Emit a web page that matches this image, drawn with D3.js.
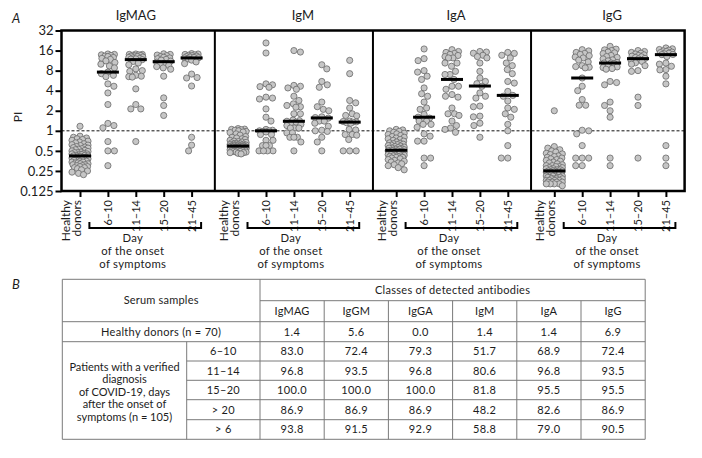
<!DOCTYPE html>
<html><head><meta charset="utf-8">
<script src="https://cdn.jsdelivr.net/npm/d3@7"></script>
<style>
body{margin:0;background:#fff}
svg{display:block}
text{font-family:Lato, "Noto Sans", sans-serif; fill:#1c1c1c}
</style>
</head><body>
<svg id="c" width="702" height="458"></svg>
<script>
// ---------------- data ----------------
const panels = ["IgMAG", "IgM", "IgA", "IgG"];
const categories = ["Healthy donors", "6–10", "11–14", "15–20", "21–45"];
const yTicks = [0.125, 0.25, 0.5, 1, 2, 4, 8, 16, 32];
const yTickLabels = ["0.125", "0.25", "0.5", "1", "2", "4", "8", "16", "32"];

// IgMAG
const igmagHealthy = [1.17,0.83,0.80,0.78,0.76,0.74,0.72,0.70,0.68,0.66,0.64,0.62,0.61,0.60,0.58,0.57,0.56,0.55,0.54,0.53,0.52,0.51,0.50,0.49,0.48,0.47,0.47,0.46,0.45,0.45,0.44,0.44,0.43,0.43,0.42,
  0.42,0.41,0.41,0.40,0.40,0.39,0.39,0.38,0.38,0.37,0.37,0.36,0.36,0.35,0.35,0.34,0.34,0.33,0.33,0.32,0.32,0.31,0.31,0.30,0.30,0.29,0.29,0.28,0.28,0.27,0.26,0.25,0.24,0.23,0.22];
const igmagD6 = [14.2,14.0,13.8,13.5,13.2,13.0,12.6,12.2,11.8,11.2,10.6,10.0,9.4,8.8,7.6,7.2,6.8,6.5,5.06,4.66,3.7,2.48,1.29,1.2,1.11,0.69,0.5,0.5,0.3];
const igmagD11 = [14.2,14.0,14.0,13.8,13.6,13.5,13.3,13.2,13.0,12.8,12.6,12.4,12.2,12.0,11.9,11.7,11.0,10.4,9.8,8.5,8.0,7.8,6.8,6.6,6.5,6.4,4.26,2.48,2.13,2.13,0.69];
const igmagD15 = [14.3,14.0,13.7,13.4,13.0,12.7,12.4,12.1,11.8,11.5,11.1,10.7,10.3,10.0,9.6,9.2,8.8,8.4,6.6,3.12,2.4,1.7];
const igmagD21 = [14.4,14.2,14.0,13.8,13.6,13.4,13.2,13.0,12.8,12.6,12.5,12.4,12.0,11.5,10.8,10.2,7.1,6.3,6.2,4.7,0.8,0.61,0.5];
const igmagMedians = [0.42, 7.6, 11.7, 10.9, 12.4];

// IgM
const igmHealthy = [1.08,1.06,1.05,1.04,1.02,1.0,0.98,0.96,0.94,0.9,0.86,0.82,0.8,0.78,0.76,0.74,0.72,0.7,0.69,0.68,0.67,0.66,0.65,0.64,0.63,0.63,0.62,0.62,0.61,0.61,0.6,0.6,0.6,0.59,0.59,
  0.59,0.58,0.58,0.58,0.57,0.57,0.57,0.56,0.56,0.56,0.55,0.55,0.55,0.54,0.54,0.54,0.53,0.53,0.53,0.52,0.52,0.52,0.51,0.51,0.5,0.5,0.5,0.49,0.49,0.48,0.48,0.47,0.47,0.46,0.45];
const igmD6 = [20.8,14.7,5.06,4.9,4.6,4.5,3.2,3.1,3.0,2.13,1.6,1.4,1.05,1.02,1.0,1.0,0.98,0.96,0.88,0.88,0.72,0.72,0.6,0.6,0.6,0.5,0.5,0.5,0.5];
const igmD11 = [16,15.2,4.8,4.66,4.4,4.2,3.3,2.85,2.54,2.4,2.3,2.26,1.8,1.8,1.45,1.42,1.39,1.35,1.3,1.25,1.2,1.1,1.1,1.1,0.93,0.93,0.8,0.8,0.8,0.68,0.5];
const igmD15 = [9.8,8.5,5.5,4.9,4.5,2.7,2.3,2.1,2.0,1.62,1.58,1.55,1.4,1.4,1.3,1.17,1.02,1.0,0.98,0.8,0.68,0.5];
const igmD21 = [11.4,7.2,2.85,2.63,2.2,1.8,1.7,1.68,1.4,1.38,1.36,1.35,1.32,1.3,1.05,1.03,0.88,0.88,0.86,0.74,0.5,0.5,0.5];
const igmMedians = [0.59, 1.0, 1.39, 1.56, 1.35];

// IgA
const igaHealthy = [1.05,1.03,1.0,0.98,0.95,0.92,0.9,0.88,0.85,0.82,0.8,0.78,0.76,0.74,0.72,0.7,0.68,0.66,0.65,0.64,0.63,0.62,0.61,0.6,0.59,0.58,0.57,0.56,0.55,0.55,0.54,0.53,0.53,0.52,0.51,
  0.51,0.5,0.5,0.49,0.49,0.48,0.48,0.47,0.47,0.46,0.46,0.45,0.45,0.44,0.44,0.43,0.43,0.42,0.42,0.41,0.41,0.4,0.4,0.39,0.38,0.37,0.36,0.35,0.34,0.33,0.32,0.31,0.3,0.28,0.26];
const igaD6 = [16.9,12.1,11.3,8.0,7.6,6.6,5.9,4.4,3.6,3.3,2.7,2.2,2.1,1.76,1.6,1.55,1.48,1.4,1.4,1.25,1.25,1.13,0.9,0.83,0.7,0.7,0.39,0.39,0.3];
const igaD11 = [16.5,15.5,15.0,14.5,14.0,13.5,13.0,12.4,12.4,10.4,10.4,9.3,7.8,7.0,7.0,5.9,4.66,4.66,4.2,3.5,3.3,3.2,2.2,1.8,1.8,1.7,1.4,1.2,1.1,1.05,0.95];
const igaD15 = [15.5,15.2,14.6,13.6,13.0,12.4,10.4,7.8,6.2,5.5,5.1,4.66,3.7,3.3,3.1,2.35,2.3,1.66,1.62,1.3,1.2,0.8];
const igaD21 = [15.0,14.5,13.6,12.4,10.4,9.5,8.3,7.2,5.5,5.2,3.9,3.4,3.3,2.8,2.2,2.1,1.8,1.6,1.25,1.0,0.6,0.39,0.39];
const igaMedians = [0.51, 1.6, 5.9, 4.7, 3.4];

// IgG
const iggHealthy = [2.0,0.58,0.55,0.52,0.5,0.48,0.46,0.45,0.44,0.42,0.41,0.4,0.39,0.38,0.37,0.36,0.35,0.34,0.33,0.32,0.31,0.3,0.3,0.29,0.29,0.28,0.28,0.27,0.27,0.26,0.26,0.26,0.25,0.25,0.25,
  0.25,0.24,0.24,0.24,0.23,0.23,0.23,0.22,0.22,0.22,0.21,0.21,0.21,0.21,0.2,0.2,0.2,0.2,0.19,0.19,0.19,0.19,0.18,0.18,0.18,0.18,0.17,0.17,0.17,0.17,0.16,0.16,0.16,0.16,0.15];
const iggD6 = [16.5,15.8,15.0,14.5,14.0,13.4,12.8,12.4,11.5,10.8,9.5,9.2,9.0,8.8,6.2,4.66,4.0,2.95,2.42,2.42,1.02,1.0,0.9,0.6,0.39,0.39,0.39,0.3,0.3];
const iggD11 = [18.5,16.8,16.4,16.0,15.2,14.8,14.4,13.5,13.0,12.6,12.0,11.6,11.2,10.6,10.4,10.4,10.2,9.3,9.1,8.9,8.6,8.4,5.5,5.3,4.9,2.7,2.4,2.0,1.6,0.39,0.3];
const iggD15 = [16.0,15.5,15.0,14.6,14.2,13.8,13.5,13.2,12.9,12.6,12.2,12.0,11.5,11.0,10.5,10.0,9.5,8.0,7.8,3.2,2.4,0.39];
const iggD21 = [17.5,17.0,16.6,16.2,15.8,15.5,15.2,14.9,14.6,14.3,14.0,13.9,13.0,10.4,10.0,9.3,8.3,8.2,6.6,5.06,0.6,0.39,0.3];
const iggMedians = [0.25, 6.2, 10.4, 12.1, 13.9];

// Table B
const antibodyClasses = ["IgMAG", "IgGM", "IgGA", "IgM", "IgA", "IgG"];
const periodLabels = ["6–10", "11–14", "15–20", "> 20", "> 6"];
const healthyRow = ["1.4", "5.6", "0.0", "1.4", "1.4", "6.9"];
const row6_10 = ["83.0", "72.4", "79.3", "51.7", "68.9", "72.4"];
const row11_14 = ["96.8", "93.5", "96.8", "80.6", "96.8", "93.5"];
const row15_20 = ["100.0", "100.0", "100.0", "81.8", "95.5", "95.5"];
const rowOver20 = ["86.9", "86.9", "86.9", "48.2", "82.6", "86.9"];
const rowOver6 = ["93.8", "91.5", "92.9", "58.8", "79.0", "90.5"];
const patientLines = ["Patients with a verified", "diagnosis", "of COVID-19, days", "after the onset of", "symptoms (n = 105)"];

const panelSeries = {
  IgMAG: [igmagHealthy, igmagD6, igmagD11, igmagD15, igmagD21],
  IgM: [igmHealthy, igmD6, igmD11, igmD15, igmD21],
  IgA: [igaHealthy, igaD6, igaD11, igaD15, igaD21],
  IgG: [iggHealthy, iggD6, iggD11, iggD15, iggD21]
};
const panelMedians = { IgMAG: igmagMedians, IgM: igmMedians, IgA: igaMedians, IgG: iggMedians };
const tableRows = [row6_10, row11_14, row15_20, rowOver20, rowOver6];

// ---------------- layout ----------------
const svg = d3.select("#c");
svg.append("rect").attr("width", 702).attr("height", 458).attr("fill", "#fff");

const frameT = 30.5, frameB = 191;
const y = d3.scaleLog().base(2).domain([0.125, 32]).range([frameB, frameT]);
const px = d3.scalePoint().domain(panels).range([80, 554.3]);
const cx = d3.scalePoint().domain(categories).range([0, 111.6]);
const frameL = px(panels[0]) - 18.5;
const frameR = px(panels[3]) + cx(categories[4]) + 18.7;
const xPos = (p, c) => px(p) + cx(c);

// beeswarm placement (layout only)
function swarm(vals, d, maxHalf) {
  const pts = vals.map(v => ({ v, y: y(v) })).sort((a, b) => a.y - b.y);
  const placed = [];
  const steps = [0];
  for (let s = 0.5; s <= maxHalf + 1e-9; s += 0.5) steps.push(s, -s);
  pts.forEach((p, i) => {
    const sg = i % 2 ? 1 : -1;
    const near = placed.filter(q => Math.abs(q.y - p.y) < d);
    let best = 0, bestScore = -1;
    for (const s of steps) {
      const c = s * sg;
      let m = Infinity;
      for (const q of near) { const dd = Math.hypot(q.x - c, q.y - p.y); if (dd < m) m = dd; }
      if (m >= d) { best = c; break; }
      if (m > bestScore + 0.05) { bestScore = m; best = c; }
    }
    p.x = best;
    placed.push(p);
  });
  return pts;
}

// panel label A
svg.append("text").attr("x", 12).attr("y", 23).attr("font-size", 13).attr("font-style", "italic").text("A");

// titles
const titleOffset = [0, 9, 4, 2];
panels.forEach((p, i) => {
  svg.append("text").attr("x", px(p) + cx(categories[2]) + titleOffset[i]).attr("y", 19.5)
    .attr("text-anchor", "middle").attr("font-size", 13).text(p);
});

// PI label
svg.append("text").attr("transform", "translate(22,117) rotate(-90)")
  .attr("text-anchor", "middle").attr("font-size", 12).text("PI");

// dashed reference line at 1
svg.append("line").attr("x1", frameL).attr("x2", frameR).attr("y1", y(1)).attr("y2", y(1))
  .attr("stroke", "#111").attr("stroke-width", 1).attr("stroke-dasharray", "3,2");

// points
const gPts = svg.append("g");
panels.forEach(p => {
  panelSeries[p].forEach((vals, ci) => {
    const c = categories[ci];
    const pts = swarm(vals, 6.3, ci === 0 ? 8 : 7);
    gPts.selectAll(null).data(pts).enter().append("circle")
      .attr("cx", d => xPos(p, c) + d.x).attr("cy", d => d.y).attr("r", 3.1)
      .attr("fill", "#c6c6c6").attr("stroke", "#6a6a6a").attr("stroke-width", 0.8);
  });
  // medians
  svg.append("g").selectAll("line").data(panelMedians[p]).enter().append("line")
    .attr("x1", (d, i) => xPos(p, categories[i]) - 11).attr("x2", (d, i) => xPos(p, categories[i]) + 11)
    .attr("y1", d => y(d)).attr("y2", d => y(d)).attr("stroke", "#000").attr("stroke-width", 3);
});

// frame and dividers
svg.append("rect").attr("x", frameL).attr("y", frameT).attr("width", frameR - frameL).attr("height", frameB - frameT)
  .attr("fill", "none").attr("stroke", "#000").attr("stroke-width", 2.5);
for (let i = 0; i < panels.length - 1; i++) {
  const xd = (xPos(panels[i], categories[4]) + px(panels[i + 1])) / 2;
  svg.append("line").attr("x1", xd).attr("x2", xd).attr("y1", frameT).attr("y2", frameB)
    .attr("stroke", "#000").attr("stroke-width", 2);
}

// y axis
const yAxis = svg.append("g").attr("transform", `translate(${frameL},0)`)
  .call(d3.axisLeft(y).tickValues(yTicks).tickFormat((d, i) => yTickLabels[i]).tickSize(6).tickPadding(2));
yAxis.select(".domain").remove();
yAxis.selectAll(".tick line").attr("stroke", "#000").attr("stroke-width", 2);
yAxis.selectAll(".tick text").attr("font-size", 13).attr("font-family", "Lato, sans-serif").attr("fill", "#1c1c1c");

// x axes per panel
panels.forEach(p => {
  const g = svg.append("g").attr("transform", `translate(${px(p)},${frameB})`)
    .call(d3.axisBottom(cx).tickSize(6).tickFormat(""));
  g.select(".domain").remove();
  g.selectAll(".tick line").attr("stroke", "#000").attr("stroke-width", 2);
  categories.forEach((c, ci) => {
    const t = svg.append("text").attr("transform", `translate(${xPos(p, c)},200) rotate(-90)`)
      .attr("text-anchor", "end").attr("font-size", ci === 0 ? 12 : 11);
    if (ci === 0) {
      const parts = c.split(" ");
      t.append("tspan").attr("x", 0).attr("y", -10.5).text(parts[0]);
      t.append("tspan").attr("x", 0).attr("y", 1).text(parts[1]);
    } else {
      t.attr("dy", "0.36em").text(c);
    }
  });
  // bracket
  const x1 = xPos(p, categories[1]) - 18.5, x2 = xPos(p, categories[4]) + 9.5;
  svg.append("path").attr("d", `M${x1},222V228H${x2}V222`).attr("fill", "none")
    .attr("stroke", "#000").attr("stroke-width", 2);
  const tc = px(p) + cx(categories[2]) - 3;
  ["Day", "of the onset", "of symptoms"].forEach((s, k) => {
    svg.append("text").attr("x", tc).attr("y", 242 + k * 13).attr("text-anchor", "middle")
      .attr("font-size", 11.3).attr("letter-spacing", 0.3).text(s);
  });
});

// ---------------- table B ----------------
svg.append("text").attr("x", 12).attr("y", 289).attr("font-size", 13).attr("font-style", "italic").text("B");

const tL = 62.3, tSub = 186.7, tC0 = 260, colW = 64.2, tR = tC0 + colW * 6;
const rowY = [279.3, 300.7, 321.7, 341.7, 361, 380.3, 399.7, 419.7, 439.3];
const tg = svg.append("g").attr("stroke", "#7a7a7a").attr("stroke-width", 1);
const hl = (x1, x2, yy) => tg.append("line").attr("x1", x1).attr("x2", x2).attr("y1", yy).attr("y2", yy);
const vl = (xx, y1, y2) => tg.append("line").attr("x1", xx).attr("x2", xx).attr("y1", y1).attr("y2", y2);
hl(tL, tR, rowY[0]); hl(tC0, tR, rowY[1]); hl(tL, tR, rowY[2]); hl(tL, tR, rowY[3]);
for (let k = 4; k <= 7; k++) hl(tSub, tR, rowY[k]);
hl(tL, tR, rowY[8]);
vl(tL, rowY[0], rowY[8]); vl(tC0, rowY[0], rowY[8]); vl(tR, rowY[0], rowY[8]);
for (let k = 1; k < 6; k++) vl(tC0 + k * colW, rowY[1], rowY[8]);
vl(tSub, rowY[3], rowY[8]);

const tt = (x, yy, s, ls) => svg.append("text").attr("x", x).attr("y", yy).attr("dy", "0.35em")
  .attr("text-anchor", "middle").attr("font-size", 11).attr("letter-spacing", ls || 0).text(s);
tt((tL + tC0) / 2, (rowY[0] + rowY[2]) / 2, "Serum samples", 0.2);
tt((tC0 + tR) / 2, (rowY[0] + rowY[1]) / 2, "Classes of detected antibodies", 0.3);
antibodyClasses.forEach((a, k) => tt(tC0 + colW * (k + 0.5), (rowY[1] + rowY[2]) / 2, a, 0.2));
tt((tL + tC0) / 2, (rowY[2] + rowY[3]) / 2, "Healthy donors (n = 70)", 0.3);
healthyRow.forEach((v, k) => tt(tC0 + colW * (k + 0.5), (rowY[2] + rowY[3]) / 2, v, 0.4));
tableRows.forEach((row, r) => {
  const yc = (rowY[3 + r] + rowY[4 + r]) / 2;
  tt((tSub + tC0) / 2, yc, periodLabels[r], 0.3);
  row.forEach((v, k) => tt(tC0 + colW * (k + 0.5), yc, v, 0.4));
});
patientLines.forEach((s, k) => tt((tL + tSub) / 2, 366.7 + k * 12.5, s));
</script>
</body></html>
